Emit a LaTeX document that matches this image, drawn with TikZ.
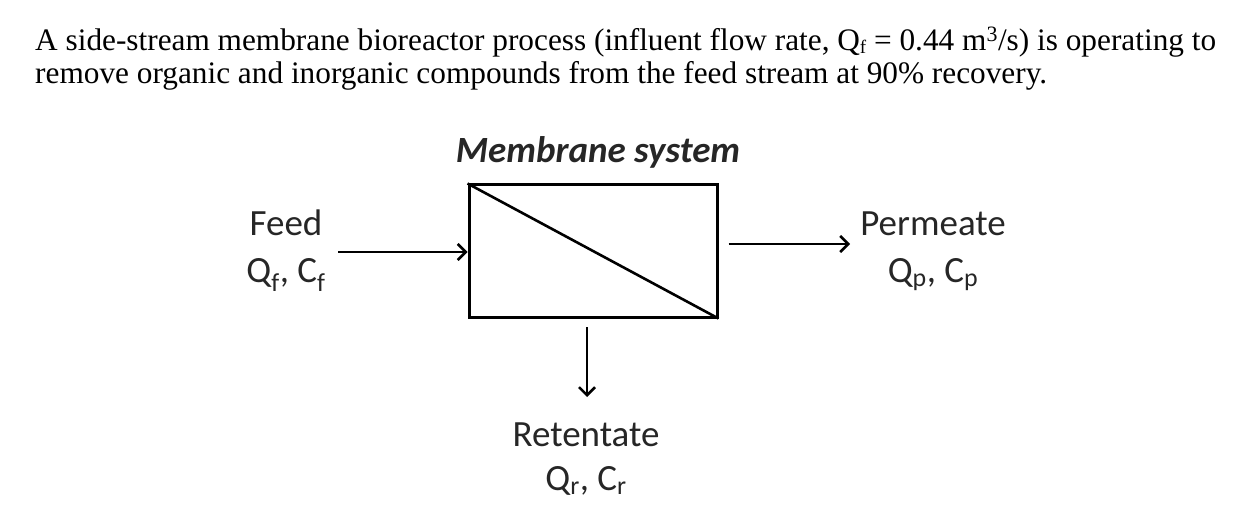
\documentclass[tikz,border=0pt]{standalone}
\usepackage{fontspec}
\setmainfont{Liberation Serif}
\newfontfamily\calfont{Carlito}
\usetikzlibrary{arrows.meta}
\newcommand{\lowsub}[1]{\raisebox{-2.5pt}{\fontsize{19}{20}\selectfont #1}}
\tikzset{
  flow/.style={line width=2.5pt,-{Straight Barb[length=8pt,width=16pt,line width=2.5pt]}},
  lbl/.style={font=\calfont\fontsize{37}{41}\selectfont,inner sep=0pt,text=black!85},
  top/.style={font=\fontsize{31.3}{36}\selectfont,inner sep=0pt,anchor=base west},
}
\begin{document}
\begin{tikzpicture}[x=1pt,y=-1pt]
\useasboundingbox (0,0) rectangle (1254,516);
\node[top] (l1) at (35,51) {A side-stream membrane bioreactor process (influent flow rate, Q\lowsub{f} = 0.44 m\textsuperscript{3}/s) is operating to};
\node[top] (l2) at (35,84) {remove organic and inorganic compounds from the feed stream at 90\% recovery.};
\node[draw,line width=3pt,minimum width=248pt,minimum height=132pt,inner sep=0pt] (mem) at (593,251) {};
\draw[line width=2.6pt] (mem.north west) -- (mem.south east);
\node[lbl,font=\calfont\bfseries\itshape\fontsize{37}{41}\selectfont,anchor=base] (title) at (598,163) {Membrane system};
\node[lbl,anchor=base] (feed) at (286,236) {Feed};
\node[lbl,anchor=base] (feedq) at (286,282) {Q\textsubscript{f}, C\textsubscript{f}};
\node[lbl,anchor=base] (perm) at (933,236) {Permeate};
\node[lbl,anchor=base] (permq) at (933,282) {Q\textsubscript{p}, C\textsubscript{p}};
\node[lbl,anchor=base] (ret) at (586,446) {Retentate};
\node[lbl,anchor=base] (retq) at (586,490) {Q\textsubscript{r}, C\textsubscript{r}};
\coordinate (fs) at (338,252);
\coordinate (pe) at (850,244);
\coordinate (rs) at (587,327);
\coordinate (re) at (587,397);
\draw[flow] (fs) -- (mem.west |- fs);
\draw[flow] (mem.east |- pe) ++(10,0) -- (pe);
\draw[flow] (rs) -- (re);
\end{tikzpicture}
\end{document}
